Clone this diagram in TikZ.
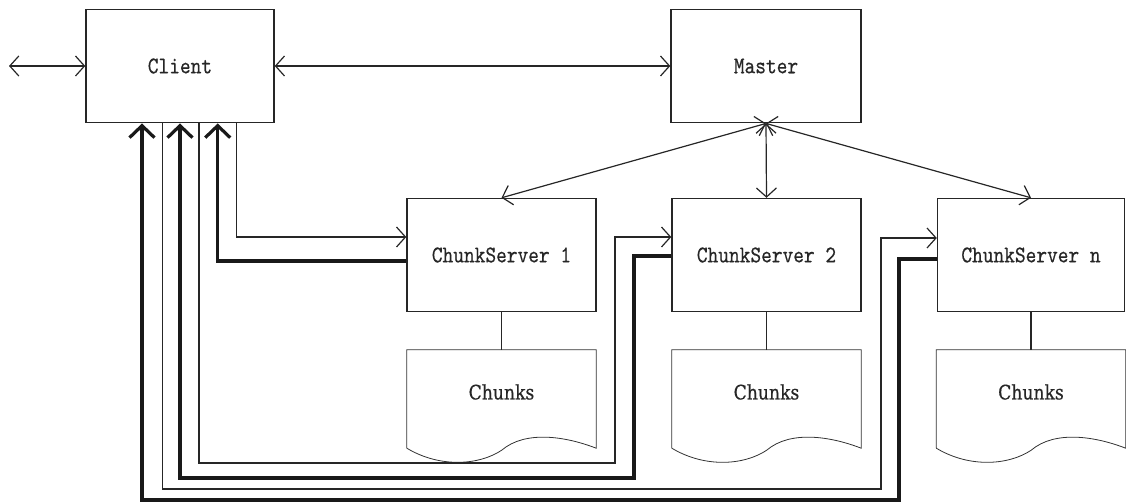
\documentclass[tikz,border=0pt]{standalone}
\usepackage{fontspec}
\newfontfamily\chunkfont[FakeStretch=0.86,FakeBold=0.5]{DejaVu Serif}
\newfontfamily\boxfont[FakeStretch=0.85,FakeBold=0.4]{lmmono10-regular.otf}
\usetikzlibrary{arrows.meta}
\begin{document}
\begin{tikzpicture}[x=1pt,y=-1pt,
  box/.style={draw=black!85,line width=1.4pt,rectangle,inner sep=0pt,
    font=\boxfont\fontsize{24}{28}\selectfont,text=black!85},
  doc/.style={rectangle,inner sep=0pt,minimum width=189pt,minimum height=98pt},
  dbl/.style={line width=1.2pt,draw=black!85,{Straight Barb[length=9pt,width=20pt]}-{Straight Barb[length=9pt,width=20pt]}},
  req/.style={line width=1.2pt,draw=black!85,-{Straight Barb[length=9pt,width=20pt]}},
  resp/.style={line width=3.2pt,draw=black!90,-{Straight Barb[length=12pt,width=25pt]}},
  link/.style={line width=1.2pt,draw=black!85},
  docline/.style={line width=0.8pt,draw=black!80}]
\useasboundingbox (0,0) rectangle (1126,502);

\node[box,minimum width=188pt,minimum height=113.5pt] (client) at (180,66) {Client};
\node[box,minimum width=190pt,minimum height=113.5pt] (master) at (766,66) {Master};
\node[box,minimum width=189pt,minimum height=113pt] (cs1) at (501.5,255) {ChunkServer 1};
\node[box,minimum width=189pt,minimum height=113pt] (cs2) at (766.5,255) {ChunkServer 2};
\node[box,minimum width=187pt,minimum height=113pt] (csn) at (1031,255) {ChunkServer n};

\node[doc] (ch1) at (501.5,399) {};
\node[doc] (ch2) at (766.5,399) {};
\node[doc] (chn) at (1031,399) {};

\foreach \c in {ch1,ch2,chn}{
  \draw[docline] (\c.south west) -- (\c.north west) -- (\c.north east) -- (\c.south east)
    .. controls ([shift={(-31,-12)}]\c.south east) and ([shift={(-71,-18)}]\c.south east) .. ([shift={(-94.5,2)}]\c.south east)
    .. controls ([shift={(-117,17)}]\c.south east) and ([shift={(-156,20)}]\c.south east) .. (\c.south west);
  \node[font=\chunkfont\fontsize{20}{24}\selectfont,text=black!85] (\c t) at ([shift={(0,-7)}]\c.center) {Chunks};
}

\coordinate (ext) at (9,66);
\draw[dbl] (ext) -- (client.west);
\draw[dbl] (client.east) -- (master.west);
\draw[dbl] (master.south) -- (cs1.north);
\draw[dbl] (master.south) -- (cs2.north);
\draw[dbl] (master.south) -- (csn.north);

\draw[link] (cs1.south) -- (ch1.north);
\draw[link] (cs2.south) -- (ch2.north);
\draw[link] (csn.south) -- (chn.north);

% requests (thin) and responses (thick)
\draw[req] ([shift={(56.7,0)}]client.south) |- ([shift={(0,-18)}]cs1.west);
\draw[resp] ([shift={(0,6)}]cs1.west) -| ([shift={(37.7,0)}]client.south);

\draw[req] ([shift={(19,0)}]client.south) |- (615,463) |- ([shift={(0,-18)}]cs2.west);
\draw[resp] ([shift={(0,1)}]cs2.west) -| (634,478) -| (client.south);

\draw[req] ([shift={(-17.7,0)}]client.south) |- (881,489) |- ([shift={(0,-17)}]csn.west);
\draw[resp] ([shift={(0,4)}]csn.west) -| (899,500) -| ([shift={(-38,0)}]client.south);
\end{tikzpicture}
\end{document}
